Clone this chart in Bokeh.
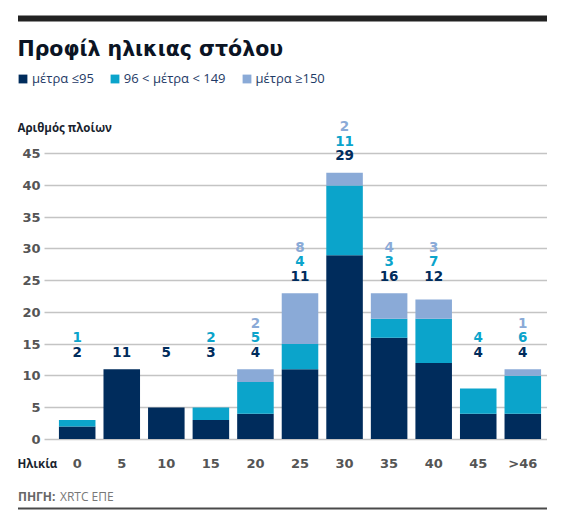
from bokeh.plotting import figure
from bokeh.layouts import column
from bokeh.models import (ColumnDataSource, Range1d, FixedTicker, Label, Legend,
                          LegendItem, BoxAnnotation, Grid)
from bokeh.embed import file_html
from bokeh.resources import INLINE
from bokeh.core.properties import value

# ---------------- data ----------------
categories = ["0", "5", "10", "15", "20", "25", "30", "35", "40", "45", ">46"]
le95 = [2, 11, 5, 3, 4, 11, 29, 16, 12, 4, 4]
mid = [1, 0, 0, 2, 5, 4, 11, 3, 7, 4, 6]
ge150 = [0, 0, 0, 0, 2, 8, 2, 4, 3, 0, 1]
series_names = ["μέτρα ≤95", "96 < μέτρα < 149", "μέτρα ≥150"]
y_ticks = [0, 5, 10, 15, 20, 25, 30, 35, 40, 45]

C_NAVY = "#002c5c"
C_TEAL = "#0ba4cb"
C_LIGHT = "#8aaad7"
colors = [C_NAVY, C_TEAL, C_LIGHT]
NUMF = "DejaVu Sans"
TXTF = "Open Sans"

# ---------------- geometry (pixels) ----------------
W = 547
HM = 487           # main figure height
ML, MB = 17, 16    # frame: x 17..547, y 0..471
FRAME_L, FRAME_R, FRAME_B = ML, W, HM - MB
X0PX, UX = 76.7, 44.56     # pixel centre of first category, pixels per category
Y0PX, UY = 438.6, 6.34     # pixel of value 0, pixels per unit


def dx(X):
    return (X - X0PX) / UX


def dy(Y):
    return (Y0PX - Y) / UY


p = figure(width=W, height=HM, output_backend="svg", toolbar_location=None,
           x_range=Range1d(dx(FRAME_L), dx(FRAME_R)),
           y_range=Range1d(dy(FRAME_B), dy(0)),
           min_border_left=ML, min_border_right=0, min_border_top=0,
           min_border_bottom=MB)
p.outline_line_color = None
p.background_fill_color = "white"
p.border_fill_color = "white"

xs = list(range(len(categories)))
src = ColumnDataSource(dict(x=xs, le95=le95, mid=mid, ge150=ge150))
rs = p.vbar_stack(["le95", "mid", "ge150"], x="x", width=0.82, source=src,
                  color=colors, line_color=None)

# ---------------- axes ----------------
p.xaxis.ticker = FixedTicker(ticks=xs)
p.xaxis.major_label_overrides = {i: c for i, c in enumerate(categories)}
p.xaxis.fixed_location = dy(455.7)
p.yaxis.ticker = FixedTicker(ticks=y_ticks)
p.yaxis.fixed_location = dx(40)
for ax in (p.xaxis[0], p.yaxis[0]):
    ax.axis_line_color = None
    ax.major_tick_line_color = None
    ax.minor_tick_line_color = None
    ax.major_tick_in = 0
    ax.major_tick_out = 0
    ax.minor_tick_in = 0
    ax.minor_tick_out = 0
    ax.major_label_standoff = 0
    ax.major_label_text_font = NUMF
    ax.major_label_text_font_style = "bold"
    ax.major_label_text_font_size = "13px"
    ax.major_label_text_color = "#555555"

p.xgrid.visible = False
p.ygrid.ticker = FixedTicker(ticks=y_ticks)
p.ygrid.grid_line_color = "#c4c4c4"
p.ygrid.grid_line_width = 1.5
if "cross_bounds" in Grid.properties():
    p.ygrid.cross_bounds = (dx(44), dx(FRAME_R))
else:
    p.add_layout(BoxAnnotation(left=dx(FRAME_L), right=dx(44), bottom=dy(FRAME_B), top=dy(0),
                               fill_color="white", fill_alpha=1, line_color=None,
                               level="underlay"))

# ---------------- value labels above bars ----------------
totals = [a + b + c for a, b, c in zip(le95, mid, ge150)]
tiers = [-(-t // 12) for t in totals]
anchor = [max(t for t, k in zip(totals, tiers) if k == tier) for tier in tiers]
lx, ly, lt, lc, lo = [], [], [], [], []
for i in xs:
    row = 0
    for vals, col in ((le95, C_NAVY), (mid, C_TEAL), (ge150, C_LIGHT)):
        if vals[i] > 0:
            lx.append(i)
            ly.append(anchor[i])
            lt.append(str(vals[i]))
            lc.append(col)
            lo.append(-17.5 - 14.6 * row)
            row += 1
lsrc = ColumnDataSource(dict(x=lx, y=ly, t=lt, c=lc, o=lo))
p.text(x="x", y="y", text="t", source=lsrc, text_color="c", y_offset="o",
       text_align="center", text_baseline="middle",
       text_font=value(NUMF), text_font_style="bold", text_font_size="13.5px")


def add_label(fig, x, y, text, size, color, style="normal", font=TXTF):
    fig.add_layout(Label(x=x, y=y, text=text, text_font=font, text_font_size=size,
                         text_color=color, text_font_style=style,
                         text_align="left", text_baseline="middle"))


# top black rule
p.add_layout(BoxAnnotation(left=dx(17.5), right=dx(546.7), top=dy(15), bottom=dy(21),
                           fill_color="#222222", fill_alpha=1, line_color=None))

add_label(p, dx(17), dy(48), "Προφίλ ηλικιας στόλου", "20.5px", "#0b1424", "bold", NUMF)
add_label(p, dx(17), dy(127), "Αριθμός πλοίων", "11.5px", "#1a1f2e", "bold")
add_label(p, dx(17), dy(463), "Ηλικία", "11.5px", "#1a1f2e", "bold")

legend = Legend(items=[LegendItem(label=n, renderers=[r]) for n, r in zip(series_names, rs)],
                orientation="horizontal", location=(17 - FRAME_L, FRAME_B - 87),
                glyph_width=11, glyph_height=11, label_standoff=4, spacing=15,
                padding=0, margin=0, border_line_color=None,
                background_fill_alpha=0, label_text_font=TXTF,
                label_text_font_size="13px", label_text_color="#1e3a66",
                label_height=11)
p.add_layout(legend, "center")

# ---------------- footer ----------------
HF = 25
f = figure(width=W, height=HF, output_backend="svg", toolbar_location=None,
           x_range=Range1d(FRAME_L, W), y_range=Range1d(HM + HF, HM),
           x_axis_location=None, y_axis_location=None,
           min_border_left=ML, min_border_right=0, min_border_top=0, min_border_bottom=0)
f.outline_line_color = None
f.xgrid.visible = False
f.ygrid.visible = False
add_label(f, 17.5, 495.5, "ΠΗΓΗ:", "12px", "#666666", "bold")
add_label(f, 59.5, 495.5, "XRTC ΕΠΕ", "12px", "#777777")
f.add_layout(BoxAnnotation(left=17.5, right=546.7, top=507, bottom=509,
                           fill_color="#4a4a4a", fill_alpha=1, line_color=None))

layout = column(p, f, spacing=0)
open("out.html", "w").write(file_html(layout, INLINE))
